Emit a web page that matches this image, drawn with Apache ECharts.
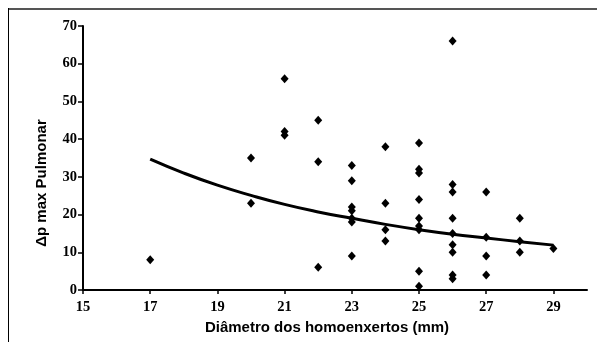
<!DOCTYPE html>
<html>
<head>
<meta charset="utf-8">
<script src="https://cdn.jsdelivr.net/npm/echarts@6/dist/echarts.min.js"></script>
<style>html,body{margin:0;padding:0;background:#fff}#c{width:598px;height:342px}</style>
</head>
<body>
<div id="c"></div>
<script>
// Scatter points: diameter (mm) and Δp max pulmonar values
const diam17 = [8];
const diam20 = [35, 23];
const diam21 = [56, 42, 41];
const diam22 = [45, 34, 6];
const diam23 = [33, 29, 22, 21, 19, 18, 9];
const diam24 = [38, 23, 16, 13];
const diam25 = [39, 32, 31, 24, 19, 17, 16, 5, 1];
const diam26 = [66, 28, 26, 19, 15, 12, 10, 4, 3];
const diam27 = [26, 14, 9, 4];
const diam28 = [19, 13, 10];
const diam29 = [11];
const groups = [[17, diam17],[20, diam20],[21, diam21],[22, diam22],[23, diam23],[24, diam24],[25, diam25],[26, diam26],[27, diam27],[28, diam28],[29, diam29]];

// Trend curve
const trendX = [17, 18, 19, 20, 21, 22, 23, 24, 25, 26, 27, 28, 29];
const trendY = [34.7, 31.0, 27.8, 25.1, 22.7, 20.7, 19.0, 17.4, 16.0, 14.8, 13.8, 12.8, 11.9];

const xTicks = [15, 17, 19, 21, 23, 25, 27, 29];
const yTicks = [0, 10, 20, 30, 40, 50, 60, 70];

const xTitle = 'Diâmetro dos homoenxertos (mm)';
const yTitle = 'Δp max Pulmonar';

const scatterData = [];
groups.forEach(g => g[1].forEach(v => scatterData.push([g[0], v])));
const trendData = trendX.map((x, i) => [x, trendY[i]]);

const chart = echarts.init(document.getElementById('c'), null, {renderer: 'canvas'});
const labelFont = {fontFamily: '"Liberation Serif", "Times New Roman", serif', fontWeight: 'bold', fontSize: 14.5, color: '#000'};
chart.setOption({
  animation: false,
  backgroundColor: '#fff',
  grid: {left: 83, right: 11, top: 26, bottom: 52},
  xAxis: {
    type: 'value', min: 15, max: 30, interval: 2,
    splitLine: {show: false},
    axisLine: {lineStyle: {color: '#000', width: 2}},
    axisTick: {length: 4, lineStyle: {color: '#000', width: 1.5}, customValues: xTicks},
    axisLabel: Object.assign({margin: 10, customValues: xTicks}, labelFont)
  },
  yAxis: {
    type: 'value', min: 0, max: 70, interval: 10,
    splitLine: {show: false},
    axisLine: {lineStyle: {color: '#000', width: 2}},
    axisTick: {length: 5, lineStyle: {color: '#000', width: 1.5}, customValues: yTicks},
    axisLabel: Object.assign({margin: 6, customValues: yTicks}, labelFont)
  },
  series: [
    {
      type: 'line', data: trendData, smooth: true, showSymbol: false, symbol: 'none',
      lineStyle: {color: '#000', width: 3}, z: 2
    },
    {
      type: 'scatter', data: scatterData, symbol: 'diamond', symbolSize: [8, 9],
      itemStyle: {color: '#000', opacity: 1}, z: 3
    }
  ],
  graphic: [
    {type: 'line', shape: {x1: 8, y1: 9, x2: 597, y2: 9}, style: {stroke: '#555', lineWidth: 2}},
    {type: 'line', shape: {x1: 8.5, y1: 8, x2: 8.5, y2: 342}, style: {stroke: '#000', lineWidth: 1}},
    {type: 'text', x: 327, y: 328, style: {text: xTitle, font: 'bold 15px "Liberation Sans", Arial, sans-serif', fill: '#000', textAlign: 'center', textVerticalAlign: 'middle'}},
    {type: 'text', x: 42, y: 183, rotation: Math.PI / 2, style: {text: yTitle, font: 'bold 15px "Liberation Sans", Arial, sans-serif', fill: '#000', textAlign: 'center', textVerticalAlign: 'middle'}}
  ]
});
</script>
</body>
</html>
